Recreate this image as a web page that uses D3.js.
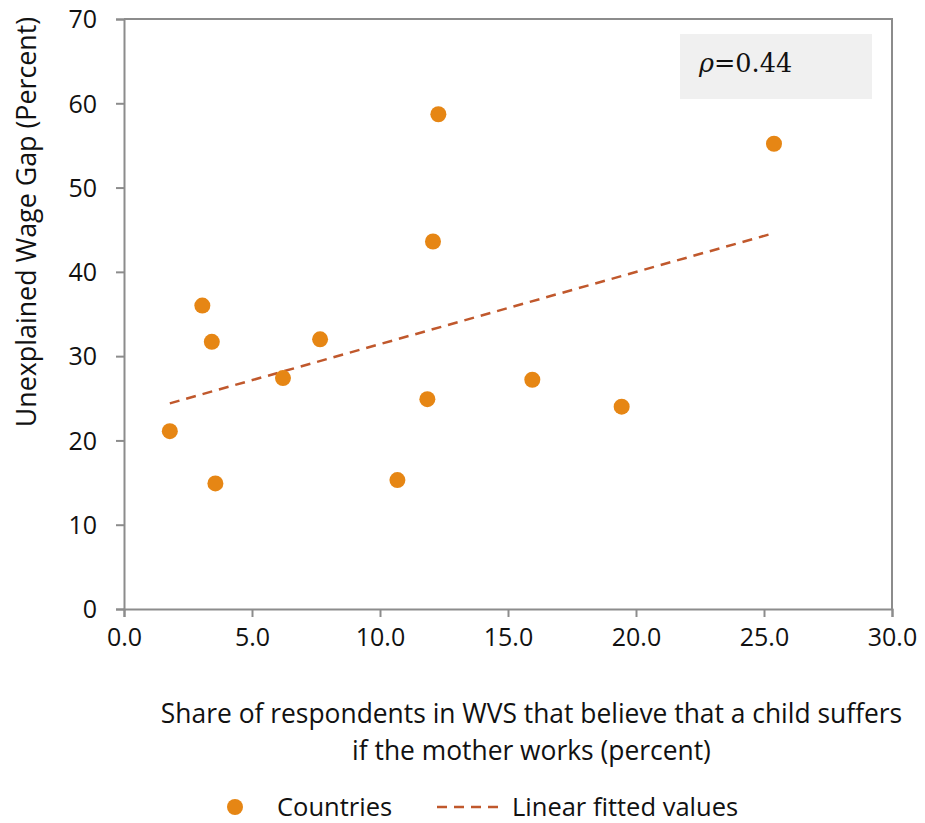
<!DOCTYPE html>
<html>
<head>
<meta charset="utf-8">
<script src="https://cdn.jsdelivr.net/npm/d3@7"></script>
<style>
  html, body { margin: 0; padding: 0; background: #fff; }
  svg { display: block; }
  text { font-family: "Open Sans", "Noto Sans", sans-serif; fill: #111; }
</style>
</head>
<body>
<svg id="chart" width="925" height="823"></svg>
<script>
// Country observations: WVS share (x) vs unexplained wage gap (y)
const shareWVS = [1.79, 3.06, 3.43, 3.57, 6.21, 7.66, 10.68, 11.85, 12.07, 12.28, 15.95, 19.44, 25.39];
const wageGap  = [21.1, 36.0, 31.7, 14.9, 27.4, 32.0, 15.3, 24.9, 43.6, 58.7, 27.2, 24.0, 55.2];

// Linear fitted values at the extremes of x
const fitX = [1.79, 25.39];
const fitY = [24.4, 44.6];

const xTicks = [0, 5, 10, 15, 20, 25, 30];
const yTicks = [0, 10, 20, 30, 40, 50, 60, 70];
const corrLabel = "0.44";

const svg = d3.select("#chart");
const margin = { left: 124, right: 33, top: 19, bottom: 214 };
const W = 925, H = 823;

const x = d3.scaleLinear().domain([0, 30]).range([margin.left, W - margin.right]);
const y = d3.scaleLinear().domain([0, 70]).range([H - margin.bottom, margin.top]);

const axisColor = "#8c8c8c";
const dotColor = "#e68614";
const fitColor = "#c0582c";

// Frame (top and right edges)
svg.append("path")
  .attr("d", `M${x(0)},${y(70)}H${x(30)}V${y(0)}`)
  .attr("fill", "none").attr("stroke", axisColor).attr("stroke-width", 2);

// X axis
const gx = svg.append("g")
  .attr("transform", `translate(0,${y(0)})`)
  .call(d3.axisBottom(x).tickValues(xTicks).tickFormat(d3.format(".1f")).tickSizeOuter(0).tickSize(8).tickPadding(11));
// Y axis
const gy = svg.append("g")
  .attr("transform", `translate(${x(0)},0)`)
  .call(d3.axisLeft(y).tickValues(yTicks).tickFormat(d3.format("d")).tickSizeOuter(0).tickSize(8).tickPadding(19));

[gx, gy].forEach(g => {
  g.select(".domain").attr("stroke", axisColor).attr("stroke-width", 2);
  g.selectAll(".tick line").attr("stroke", axisColor).attr("stroke-width", 2);
  g.selectAll(".tick text").attr("font-size", 25).attr("fill", "#111")
    .attr("font-family", '"Open Sans", "Noto Sans", sans-serif');
});
gy.selectAll(".tick text").attr("dy", "0.35em");

// Correlation label box
svg.append("rect")
  .attr("x", 680).attr("y", 34).attr("width", 192).attr("height", 65)
  .attr("fill", "#f0f0f0");
const rho = svg.append("text")
  .attr("x", 699).attr("y", 72)
  .attr("font-size", 25.5)
  .style("font-family", '"DejaVu Serif", "Liberation Serif", serif');
rho.append("tspan").attr("font-style", "italic").text("ρ");
rho.append("tspan").text("=" + corrLabel);

// Fitted line
svg.append("line")
  .attr("x1", x(fitX[0])).attr("y1", y(fitY[0]))
  .attr("x2", x(fitX[1])).attr("y2", y(fitY[1]))
  .attr("stroke", fitColor).attr("stroke-width", 2.5)
  .attr("stroke-dasharray", "10,7");

// Country points
svg.append("g").selectAll("circle")
  .data(shareWVS.map((v, i) => [v, wageGap[i]]))
  .join("circle")
  .attr("cx", d => x(d[0])).attr("cy", d => y(d[1]))
  .attr("r", 8).attr("fill", dotColor);

// Axis titles
svg.append("text")
  .attr("transform", "translate(36,222) rotate(-90)")
  .attr("text-anchor", "middle").attr("font-size", 26.8)
  .text("Unexplained Wage Gap (Percent)");

const xt = svg.append("text").attr("text-anchor", "middle").attr("font-size", 26.4);
xt.append("tspan").attr("x", 531.5).attr("y", 723).text("Share of respondents in WVS that believe that a child suffers");
xt.append("tspan").attr("x", 531.5).attr("y", 760).text("if the mother works (percent)");

// Legend
const lg = svg.append("g");
lg.append("circle").attr("cx", 235).attr("cy", 807).attr("r", 8).attr("fill", dotColor);
lg.append("text").attr("x", 277).attr("y", 816).attr("font-size", 25.5).text("Countries");
lg.append("line").attr("x1", 437).attr("x2", 500).attr("y1", 807).attr("y2", 807)
  .attr("stroke", fitColor).attr("stroke-width", 2.5).attr("stroke-dasharray", "10,7");
lg.append("text").attr("x", 512).attr("y", 816).attr("font-size", 25.5).text("Linear fitted values");
</script>
</body>
</html>
